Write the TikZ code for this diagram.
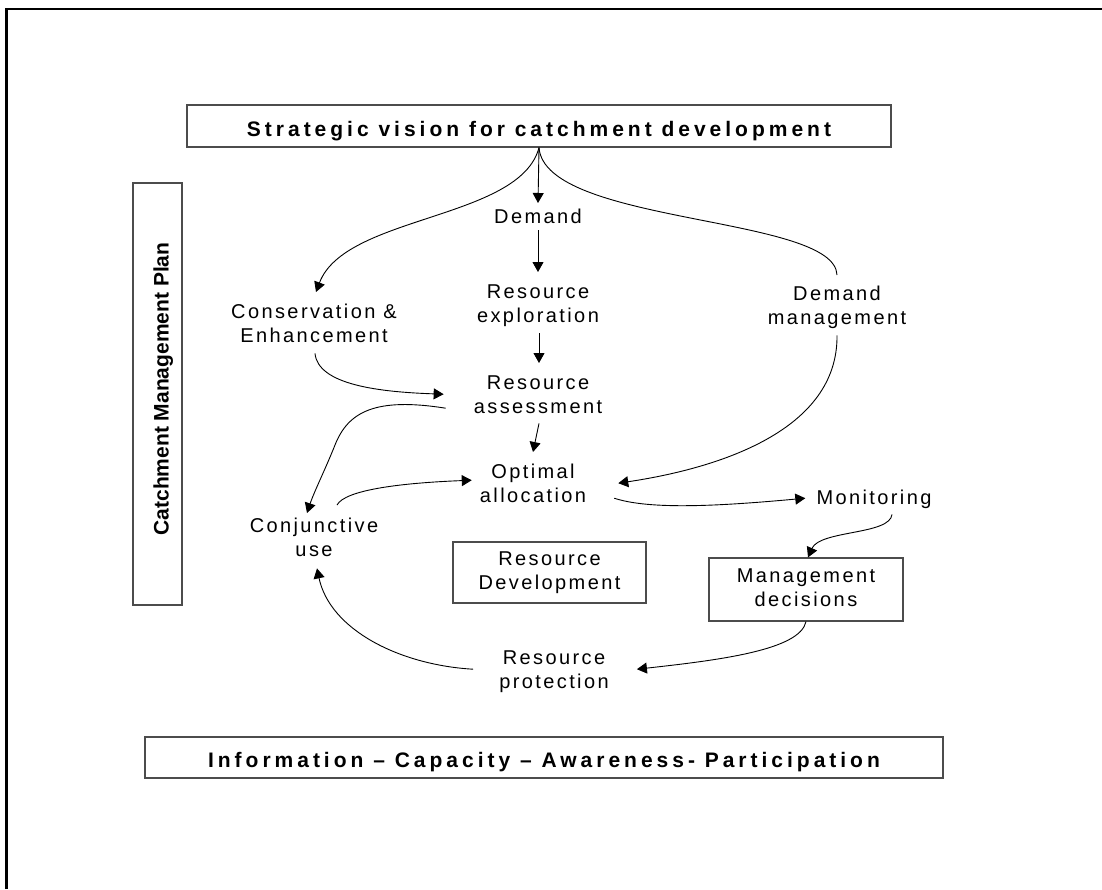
\documentclass[tikz,border=0pt]{standalone}
\usepackage{fontspec}
\setmainfont{Liberation Sans}
\newfontfamily\bodyfont[LetterSpace=12]{Liberation Sans}
\newfontfamily\headfont[LetterSpace=19]{Liberation Sans}
\usetikzlibrary{arrows.meta,calc}
\newcommand\twolines[2]{\strut#1\\\strut#2}
\newcommand\oneline[1]{\strut#1}

\tikzset{
  frame/.style={line width=2.3pt},
  lbl/.style={align=center, inner sep=0pt, font=\bodyfont\fontsize{20}{24}\selectfont},
  boxed/.style={draw=black!70, line width=1.2pt, inner sep=0pt},
  head/.style={boxed, font=\headfont\bfseries\fontsize{21}{25}\selectfont, text depth=0pt},
  link/.style={line width=0.9pt},
  arr/.style={link, -{Triangle[length=10pt,width=11pt]}},
}

\begin{document}
\begin{tikzpicture}[x=1pt,y=-1pt]
\useasboundingbox (0,0) rectangle (1102,889);

% page frame (top and left rules)
\draw[frame] (6.5,889) -- (6.5,9) -- (1102,9);

% boxes
\node[head, text height=20.5pt, minimum width=704pt, minimum height=42pt] (vision) at (539,126)
  {Strategic vision for catchment development};
\node[head, text height=20pt, minimum width=798pt, minimum height=41pt] (info) at (544,757.5)
  {Information – Capacity – Awareness- Participation};
\node[boxed, rotate=90, minimum width=422pt, minimum height=49pt,
      font=\bfseries\fontsize{21}{25}\selectfont, text height=22pt, text depth=0pt] (plan) at (157.5,394)
  {\hspace{10pt}Catchment Management Plan};
\node[lbl, boxed, minimum width=193pt, minimum height=61pt] (resdev) at (549.5,572.5)
  {\twolines{Resource}{Development}};
\node[lbl, boxed, minimum width=194pt, minimum height=63pt] (decide) at (806,589.5)
  {\twolines{Management}{decisions}};

% labels
\node[lbl] (demand)   at (538,218.2) {\oneline{Demand}};
\node[lbl] (explore)  at (538,305.2) {\twolines{Resource}{exploration}};
\node[lbl] (assess)   at (538,396.2) {\twolines{Resource}{assessment}};
\node[lbl] (optimal)  at (533,485.2) {\twolines{Optimal}{allocation}};
\node[lbl] (conserve) at (314,325.2) {\twolines{Conservation \&}{Enhancement}};
\node[lbl] (dmgmt)    at (837,307.2) {\twolines{Demand}{management}};
\node[lbl] (monitor)  at (874,499.2) {\oneline{Monitoring}};
\node[lbl] (conj)     at (314,539.2) {\twolines{Conjunctive}{use}};
\node[lbl] (protect)  at (554,671.2) {\twolines{Resource}{protection}};

% connectors
\draw[arr] (vision.south) -- ($(demand.north)+(0,-3)$);
\draw[arr] (vision.south) .. controls (520,220) and (345,215) .. ($(conserve.north)+(2,-9)$);
\draw[link] (vision.south) .. controls (545,225) and (835,215) .. ($(dmgmt.north)+(0,-8)$);
\draw[arr] ($(dmgmt.south)+(0,4)$) .. controls (838,430) and (720,468) .. ($(optimal.east)+(32,-2)$);

\draw[arr] (demand.south) -- ($(explore.north)+(0,-9)$);
\draw[arr] ($(explore.south)+(1,4)$) -- ($(assess.north)+(1,-9)$);
\draw[arr] ($(assess.south)+(1,3)$) -- ($(optimal.north)+(0,-9)$);

\draw[arr] ($(conserve.south)+(1,4)$) .. controls (318,385) and (380,392) .. ($(assess.west)+(-30,-2)$);
\draw[arr] ($(assess.west)+(-28,12)$) .. controls (375,397) and (348,412) .. (335,445)
           .. controls (325,470) and (314,492) .. ($(conj.north)+(-7,-2)$);
\draw[arr] ($(conj.north)+(23,-10)$) .. controls (345,490) and (400,483) .. ($(optimal.west)+(-8,-5)$);

\draw[arr] ($(optimal.east)+(28,13)$) .. controls (650,510) and (720,506) .. ($(monitor.west)+(-11,-1)$);
\draw[arr] ($(monitor.south)+(18,3)$) .. controls (890,535) and (820,530) .. ($(decide.north)+(2,0)$);
\draw[arr] (decide.south) .. controls (800,650) and (720,660) .. ($(protect.east)+(28,-2)$);
\draw[arr] ($(protect.west)+(-26,-2)$) .. controls (400,665) and (330,630) .. ($(conj.south)+(3,5)$);
\end{tikzpicture}
\end{document}
